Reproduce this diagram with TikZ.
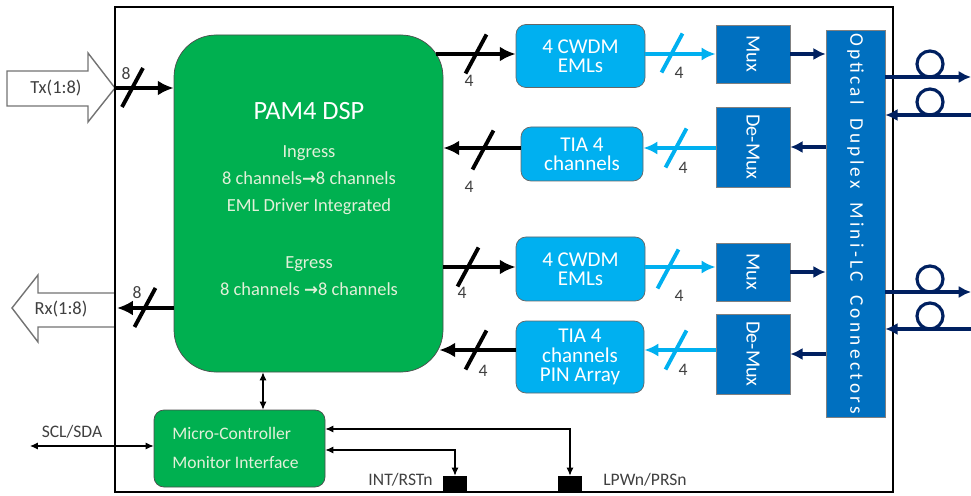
\documentclass[tikz,border=0pt]{standalone}
\usepackage{fontspec}
\setmainfont{Carlito}
\newfontfamily\arrowfont{DejaVu Sans Bold}
\usetikzlibrary{arrows.meta,calc}

\definecolor{dspgreen}{HTML}{00B050}
\definecolor{lightblue}{HTML}{00B0F0}
\definecolor{muxblue}{HTML}{0070C0}
\definecolor{navy}{HTML}{002060}
\definecolor{paletext}{HTML}{E2F0D9}
\definecolor{labelgray}{HTML}{404040}

\newlength{\pxu}\setlength{\pxu}{0.2mm}
\newcommand{\arr}{{\arrowfont\fontsize{9.5}{10}\selectfont →}}

\tikzset{
  greenbox/.style={draw=black!70, fill=dspgreen, inner sep=0pt},
  optbox/.style={draw=black!60, fill=lightblue, rounded corners=10\pxu, text=white,
    align=center, inner sep=0pt, font=\fontsize{12}{11}\selectfont},
  muxbox/.style={draw=black!50, fill=muxblue, inner sep=0pt},
  muxtext/.style={text=white, rotate=-90, font=\fontsize{11.5}{13}\selectfont},
  pinbox/.style={fill=black, inner sep=0pt, minimum width=24\pxu, minimum height=16\pxu},
  elec/.style={line width=2pt, -{Latex[length=9pt,width=8.5pt]}},
  light/.style={lightblue, line width=1.8pt, -{Latex[length=8pt,width=7.5pt]}},
  fibre/.style={navy, line width=1.8pt, -{Latex[length=7pt,width=7pt]}},
  ctl/.style={line width=0.6pt, {Latex[length=4.5pt,width=4pt]}-{Latex[length=4.5pt,width=4pt]}},
  buslabel/.style={font=\fontsize{10}{12}\selectfont, text=labelgray, inner sep=0pt},
  siglabel/.style={font=\fontsize{10}{12}\selectfont, text=labelgray, inner sep=0pt},
  bus/.pic={\draw[line width=2.2pt] (-10.5,19.5) -- (10.5,-19.5);},
}

\begin{document}
\begin{tikzpicture}[x=\pxu, y=-\pxu]
    \useasboundingbox (0,0) rectangle (971,496);

    % Host side arrows
    \draw[black!55, line width=0.8pt, fill=white] (7,71) -- (88,71) -- (88,53) -- (115,88)
        -- (88,122) -- (88,106) -- (7,106) -- cycle;
    \node[font=\fontsize{10.5}{12}\selectfont, text=labelgray] (txlabel) at (56,88) {Tx(1:8)};
    \draw[black!55, line width=0.8pt, fill=white] (115,293) -- (38,293) -- (38,275) -- (12,308)
        -- (38,342) -- (38,327) -- (115,327);
    \node[font=\fontsize{10.5}{12}\selectfont, text=labelgray] (rxlabel) at (61,309) {Rx(1:8)};

    % Module outline
    \draw[line width=1.2pt] (115,7) rectangle (893,492);

    % DSP
    \node[greenbox, rounded corners=42\pxu, minimum width=269\pxu, minimum height=337\pxu] (dsp) at (308.5,203.5) {};
    \node[text=white, font=\fontsize{15}{18}\selectfont] (dsptitle) at (309,111) {PAM4 DSP};
    \node[text=paletext, align=center, font=\fontsize{10.5}{15.4}\selectfont] (ingress) at (309,180)
        {Ingress\\8 channels\arr 8 channels\\EML Driver Integrated};
    \node[text=paletext, align=center, font=\fontsize{10.5}{15.4}\selectfont] (egress) at (309,276)
        {Egress\\8 channels \arr 8 channels};

    % Micro-controller
    \node[greenbox, rounded corners=10\pxu, minimum width=171\pxu, minimum height=77\pxu] (mc) at (239.5,448.5) {};
    \node[text=paletext, align=left, anchor=west, inner sep=0pt, font=\fontsize{10}{16}\selectfont] (mctext) at (172,448)
        {Micro-Controller\\Monitor Interface};

    % Optical blocks
    \node[optbox, minimum width=129\pxu, minimum height=63\pxu] (cwdma) at (580.5,56) {4 CWDM\\EMLs};
    \node[optbox, minimum width=122\pxu, minimum height=54\pxu] (tiaa) at (582,154) {TIA 4\\channels};
    \node[optbox, minimum width=129\pxu, minimum height=64\pxu] (cwdmb) at (580.5,269) {4 CWDM\\EMLs};
    \node[optbox, minimum width=128\pxu, minimum height=72\pxu] (tiab) at (580,357) {TIA 4\\channels\\PIN Array};

    \node[muxbox, minimum width=74\pxu, minimum height=58\pxu] (muxa) at (753,54) {};
    \node[muxtext] (muxalabel) at (muxa) {Mux};
    \node[muxbox, minimum width=74\pxu, minimum height=80\pxu] (demuxa) at (753,147) {};
    \node[muxtext] (demuxalabel) at (demuxa) {De-Mux};
    \node[muxbox, minimum width=74\pxu, minimum height=58\pxu] (muxb) at (753,272) {};
    \node[muxtext] (muxblabel) at (muxb) {Mux};
    \node[muxbox, minimum width=74\pxu, minimum height=80\pxu] (demuxb) at (753,354) {};
    \node[muxtext] (demuxblabel) at (demuxb) {De-Mux};

    \node[muxbox, minimum width=59\pxu, minimum height=387\pxu] (conn) at (855.5,223.5) {};
    \node[text=white, rotate=-90, font=\fontsize{11}{13}\selectfont\addfontfeatures{LetterSpace=17}] (connlabel) at (conn)
        {Optical\hspace{0.3em} Duplex\hspace{0.3em} Mini-LC\hspace{0.3em} Connectors};

    % Row levels
    \coordinate (r1) at (0,54);
    \coordinate (r2) at (0,148);
    \coordinate (r3) at (0,267);
    \coordinate (r4) at (0,350);

    % Electrical lanes
    \coordinate (txin) at (115,88);
    \coordinate (rxout) at (117,308);
    \draw[elec] (txin) -- (dsp.west |- txin);
    \draw[elec] (dsp.west |- rxout) -- (rxout);
    \draw[elec] ($(dsp.east |- r1)+(-7,0)$) -- (cwdma.west |- r1);
    \draw[elec] (tiaa.west |- r2) -- (dsp.east |- r2);
    \draw[elec] (dsp.east |- r3) -- (cwdmb.west |- r3);
    \draw[elec] (tiab.west |- r4) -- ($(dsp.east |- r4)+(-4,0)$);

    % Optical lanes
    \draw[light] (cwdma.east |- r1) -- (muxa.west |- r1);
    \draw[light] (demuxa.west |- r2) -- (tiaa.east |- r2);
    \draw[light] (cwdmb.east |- r3) -- (muxb.west |- r3);
    \draw[light] (demuxb.west |- r4) -- (tiab.east |- r4);
    \draw[fibre] (muxa.east) -- (conn.west |- muxa.east);
    \draw[fibre] (conn.west |- demuxa.east) -- (demuxa.east);
    \draw[fibre] (muxb.east) -- (conn.west |- muxb.east);
    \draw[fibre] (conn.west |- demuxb.east) -- (demuxb.east);

    % Fibre pigtails
    \coordinate (fa) at (971,77);
    \coordinate (fb) at (971,115);
    \coordinate (fc) at (971,292);
    \coordinate (fd) at (971,329);
    \draw[fibre] (conn.east |- fa) -- (fa);
    \draw[fibre] (fb) -- (conn.east |- fb);
    \draw[fibre] (conn.east |- fc) -- (fc);
    \draw[fibre] (fd) -- (conn.east |- fd);
    \draw[navy, line width=1.8pt] (930,64) circle[radius=13];
    \draw[navy, line width=1.8pt] (930,102) circle[radius=13];
    \draw[navy, line width=1.8pt] (930,279) circle[radius=13];
    \draw[navy, line width=1.8pt] (930,316) circle[radius=13];

    % Bus widths
    \pic at (132.5,87.5) {bus};
    \node[buslabel] (txbus) at (126,74) {8};
    \pic at (145,307.5) {bus};
    \node[buslabel] (rxbus) at (137,293) {8};
    \pic at (476,54) {bus};
    \node[buslabel] (busa) at (469,81) {4};
    \pic[lightblue] at (672,53) {bus};
    \node[buslabel] (busb) at (679,73) {4};
    \pic at (483,150) {bus};
    \node[buslabel] (busc) at (469,187) {4};
    \pic[lightblue] at (676,148) {bus};
    \node[buslabel] (busd) at (683,168) {4};
    \pic at (468,267) {bus};
    \node[buslabel] (buse) at (462,293) {4};
    \pic[lightblue] at (668,269) {bus};
    \node[buslabel] (busf) at (679,296) {4};
    \pic at (476,350) {bus};
    \node[buslabel] (busg) at (483,371) {4};
    \pic[lightblue] at (676,350) {bus};
    \node[buslabel] (bush) at (683,370) {4};

    % Management signals
    \node[pinbox] (intbox) at (455,484) {};
    \node[pinbox] (lpbox) at (570,484) {};
    \node[siglabel, anchor=east] (intlabel) at (433,480) {INT/RSTn};
    \node[siglabel, anchor=west] (lplabel) at (603,480) {LPWn/PRSn};
    \coordinate (mcx) at (263,0);
    \coordinate (scl) at (30,446);
    \coordinate (lpy) at (0,429);
    \coordinate (inty) at (0,450);
    \draw[ctl] (dsp.south -| mcx) -- (mc.north -| mcx);
    \draw[ctl] (scl) -- (mc.west |- scl);
    \node[siglabel] (scllabel) at (72,432) {SCL/SDA};
    \draw[ctl] (mc.east |- lpy) -| (lpbox.north);
    \draw[ctl] (mc.east |- inty) -| (intbox.north);
\end{tikzpicture}
\end{document}
